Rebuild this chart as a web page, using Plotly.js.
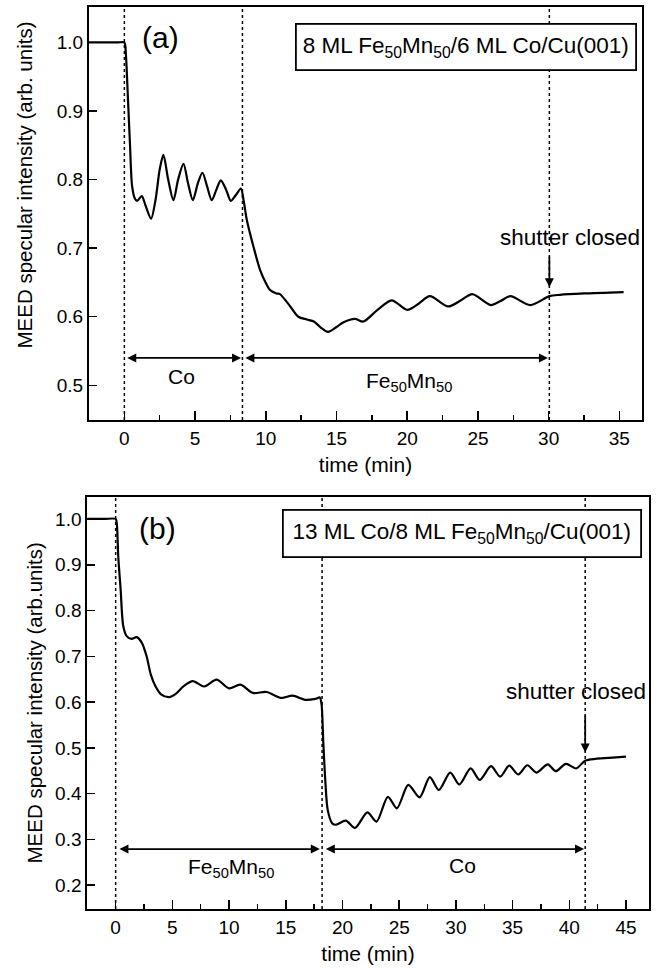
<!DOCTYPE html>
<html>
<head>
<meta charset="utf-8">
<script src="https://cdn.plot.ly/plotly-3.0.1.min.js"></script>
<style>html,body{margin:0;padding:0;background:#fff;}#chart{width:657px;height:968px;}</style>
</head>
<body>
<div id="chart"></div>
<script>
// ---- Panel (a): 8 ML Fe50Mn50 / 6 ML Co / Cu(001) ----
const timeA = [-2.5,-1.5,-0.5,0,0.1,0.25,0.4,0.55,0.75,0.9,1.23,1.5,1.89,2.2,2.5,2.76,3.1,3.47,3.8,4.18,4.5,4.84,5.2,5.52,5.85,6.18,6.5,6.82,7.2,7.53,7.9,8.24,8.43,8.66,9.13,9.6,9.96,10.3,10.76,11.0,11.73,12.3,12.9,13.4,13.85,14.4,15.0,15.5,16.3,16.9,17.9,18.9,20.0,20.8,21.6,22.9,23.8,24.6,25.9,26.6,27.3,28.7,30.05,30.8,32.5,35.3];
const valueA = [1.0,1.0,1.0,1.0,0.985,0.92,0.85,0.79,0.772,0.769,0.776,0.762,0.743,0.77,0.815,0.836,0.80,0.77,0.80,0.823,0.795,0.77,0.795,0.81,0.79,0.77,0.785,0.799,0.785,0.769,0.778,0.787,0.770,0.741,0.702,0.668,0.651,0.639,0.634,0.633,0.615,0.600,0.596,0.593,0.585,0.578,0.585,0.592,0.597,0.593,0.610,0.624,0.610,0.619,0.630,0.615,0.624,0.633,0.617,0.623,0.630,0.617,0.630,0.632,0.634,0.636];
const eventsA = [0, 8.35, 30.05];

// ---- Panel (b): 13 ML Co / 8 ML Fe50Mn50 / Cu(001) ----
const timeB = [-2.5,-1,0,0.1,0.23,0.44,0.67,0.97,1.41,1.85,2.3,2.73,3.1,3.5,4.0,4.7,5.3,6.0,6.8,7.8,8.9,10.0,11.0,12.1,13.3,14.6,15.6,16.7,17.6,18.0,18.15,18.3,18.5,18.7,19.1,19.4,20.3,21.1,22.2,23.0,24.0,24.8,25.8,26.8,27.7,28.5,29.5,30.3,31.3,32.1,33.1,33.9,34.7,35.5,36.3,37.1,38.1,38.8,39.7,40.6,41.4,42.3,43.5,45.0];
const valueB = [1.0,1.0,1.0,0.99,0.918,0.846,0.766,0.744,0.738,0.742,0.730,0.700,0.66,0.635,0.617,0.611,0.618,0.635,0.646,0.634,0.649,0.630,0.638,0.620,0.622,0.609,0.614,0.605,0.607,0.610,0.596,0.517,0.422,0.364,0.335,0.332,0.341,0.325,0.359,0.339,0.393,0.368,0.419,0.392,0.436,0.408,0.446,0.420,0.455,0.430,0.460,0.437,0.461,0.442,0.462,0.446,0.464,0.449,0.465,0.455,0.472,0.476,0.478,0.481];
const eventsB = [0, 18.2, 41.4];

const yTicksA = [0.5,0.6,0.7,0.8,0.9,1.0];
const yTicksB = [0.2,0.3,0.4,0.5,0.6,0.7,0.8,0.9,1.0];

const FONT = 'Liberation Sans, Arial, Helvetica, sans-serif';
const fe = 'Fe<sub>50</sub>Mn<sub>50</sub>';

const traces = [
  {x: timeA, y: valueA, xaxis: 'x', yaxis: 'y', type: 'scatter', mode: 'lines',
   line: {color: '#000', width: 2.2, shape: 'spline', smoothing: 0.8}, hoverinfo: 'skip'},
  {x: timeB, y: valueB, xaxis: 'x2', yaxis: 'y2', type: 'scatter', mode: 'lines',
   line: {color: '#000', width: 2.2, shape: 'spline', smoothing: 0.8}, hoverinfo: 'skip'}
];

function xAxis(domain, range, anchor, title) {
  return {
    domain: domain, range: range, anchor: anchor,
    tickmode: 'linear', tick0: 0, dtick: 5,
    ticks: 'inside', ticklen: 9, tickwidth: 1.5, tickcolor: '#000',
    minor: {ticks: 'inside', ticklen: 5, tickwidth: 1.5, tickcolor: '#000', dtick: 2.5, tick0: 0},
    showline: true, linewidth: 2, linecolor: '#000', mirror: true,
    showgrid: false, zeroline: false,
    tickfont: {family: FONT, size: 19, color: '#000'},
    title: {text: title, font: {family: FONT, size: 21, color: '#000'}, standoff: 10},
    automargin: false
  };
}
function yAxis(domain, range, anchor, ticks) {
  return {
    domain: domain, range: range, anchor: anchor,
    tickmode: 'array', tickvals: ticks, ticktext: ticks.map(v => v.toFixed(1)),
    ticks: 'inside', ticklen: 8, tickwidth: 1.5, tickcolor: '#000',
    showline: true, linewidth: 2, linecolor: '#000', mirror: true,
    showgrid: false, zeroline: false,
    tickfont: {family: FONT, size: 19, color: '#000'},
    ticklabelstandoff: 0,
    automargin: false
  };
}

const shapes = [];
eventsA.forEach(t => shapes.push({type: 'line', xref: 'x', yref: 'y domain', x0: t, x1: t, y0: 0, y1: 1,
  line: {color: '#000', width: 1.5, dash: 'dot'}}));
eventsB.forEach(t => shapes.push({type: 'line', xref: 'x2', yref: 'y2 domain', x0: t, x1: t, y0: 0, y1: 1,
  line: {color: '#000', width: 1.5, dash: 'dot'}}));

const txt = (s) => ({family: FONT, size: s, color: '#000'});
function arrow(xr, yr, x0, x1, y0, y1, side) {
  return {xref: xr, yref: yr, axref: xr, ayref: yr, x: x1, y: y1, ax: x0, ay: y0, text: '',
    showarrow: true, arrowhead: 2, arrowsize: 1, arrowwidth: 1.8, arrowcolor: '#000',
    arrowside: side, standoff: 0, startstandoff: 0};
}

const annotations = [
  // panel a
  {xref: 'x', yref: 'y', x: 2.55, y: 1.007, text: '(a)', showarrow: false, font: txt(30)},
  {xref: 'x', yref: 'y', x: 24.18, y: 0.9939, text: '8 ML ' + fe + '/6 ML Co/Cu(001)', showarrow: false,
   font: txt(22.5), bordercolor: '#000', borderwidth: 1.8, borderpad: 2, width: 334, height: 40, bgcolor: '#fff'},
  arrow('x', 'y', eventsA[0] + 0.1, eventsA[1] - 0.1, 0.540, 0.540, 'end+start'),
  arrow('x', 'y', eventsA[1] + 0.1, eventsA[2] - 0.1, 0.540, 0.540, 'end+start'),
  {xref: 'x', yref: 'y', x: 4.06, y: 0.513, text: 'Co', showarrow: false, font: txt(21)},
  {xref: 'x', yref: 'y', x: 20.1, y: 0.505, text: fe, showarrow: false, font: txt(21)},
  {xref: 'x', yref: 'y', x: 31.52, y: 0.715, text: 'shutter closed', showarrow: false, font: txt(22.5)},
  arrow('x', 'y', eventsA[2], eventsA[2], 0.690, 0.643, 'end'),
  {xref: 'paper', yref: 'paper', x: 23.5 / 657, y: 1 - 185 / 968, text: 'MEED specular intensity (arb. units)',
   textangle: -90, showarrow: false, font: txt(20.5), xanchor: 'center', yanchor: 'middle'},
  // panel b
  {xref: 'x2', yref: 'y2', x: 3.65, y: 0.98, text: '(b)', showarrow: false, font: txt(30)},
  {xref: 'x2', yref: 'y2', x: 30.57, y: 0.968, text: '13 ML Co/8 ML ' + fe + '/Cu(001)', showarrow: false,
   font: txt(22.5), bordercolor: '#000', borderwidth: 1.8, borderpad: 2, width: 352, height: 41, bgcolor: '#fff'},
  arrow('x2', 'y2', eventsB[0] + 0.2, eventsB[1] - 0.2, 0.279, 0.279, 'end+start'),
  arrow('x2', 'y2', eventsB[1] + 0.2, eventsB[2] - 0.1, 0.279, 0.279, 'end+start'),
  {xref: 'x2', yref: 'y2', x: 10.2, y: 0.238, text: fe, showarrow: false, font: txt(21)},
  {xref: 'x2', yref: 'y2', x: 30.6, y: 0.243, text: 'Co', showarrow: false, font: txt(21)},
  {xref: 'x2', yref: 'y2', x: 40.57, y: 0.624, text: 'shutter closed', showarrow: false, font: txt(22.5)},
  arrow('x2', 'y2', eventsB[2], eventsB[2], 0.574, 0.490, 'end'),
  {xref: 'paper', yref: 'paper', x: 33.5 / 657, y: 1 - 703 / 968, text: 'MEED specular intensity (arb.units)',
   textangle: -90, showarrow: false, font: txt(20.5), xanchor: 'center', yanchor: 'middle'}
];

const layout = {
  width: 657, height: 968,
  margin: {l: 0, r: 0, t: 0, b: 0, pad: 0},
  paper_bgcolor: '#fff', plot_bgcolor: '#fff',
  showlegend: false,
  font: {family: FONT, color: '#000'},
  xaxis: xAxis([89 / 657, 642 / 657], [-2.5, 36.6], 'y', 'time (min)'),
  yaxis: yAxis([(968 - 420) / 968, (968 - 7.3) / 968], [0.4494, 1.0513], 'x', yTicksA),
  xaxis2: xAxis([87.3 / 657, 648.7 / 657], [-2.5, 47], 'y2', 'time (min)'),
  yaxis2: yAxis([(968 - 909) / 968, (968 - 497) / 968], [0.148, 1.048], 'x2', yTicksB),
  shapes: shapes,
  annotations: annotations
};

Plotly.newPlot('chart', traces, layout, {staticPlot: true, displayModeBar: false});
</script>
</body>
</html>
